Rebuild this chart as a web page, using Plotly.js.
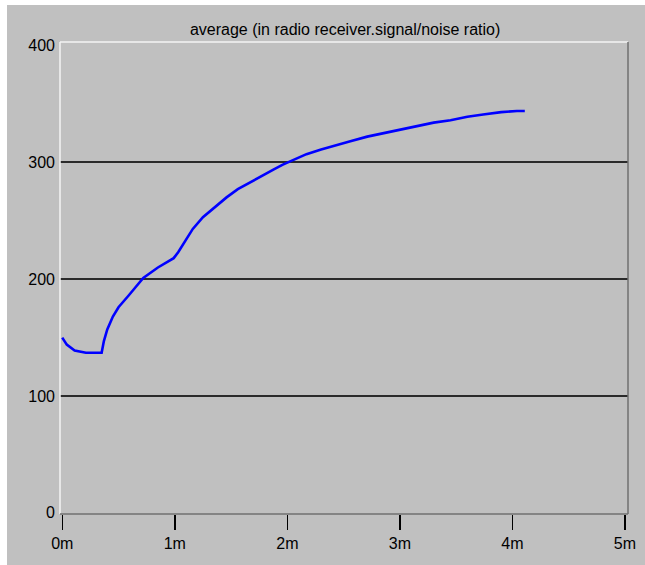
<!DOCTYPE html>
<html>
<head>
<meta charset="utf-8">
<script src="https://cdn.plot.ly/plotly-3.0.1.min.js"></script>
<style>
  html, body { margin: 0; padding: 0; background: #ffffff; }
  #chart { position: absolute; left: 7px; top: 5px; width: 638px; height: 560px; }
</style>
</head>
<body>
<div id="chart"></div>
<script>
// Elapsed time (minutes) and running average of the receiver's signal/noise ratio
const minutes = [0, 0.04, 0.11, 0.21, 0.28, 0.35, 0.37, 0.40, 0.45, 0.50, 0.59, 0.72, 0.85,
                 0.99, 1.03, 1.09, 1.16, 1.25, 1.37, 1.46, 1.56, 1.67, 1.76, 1.88, 1.96,
                 2.05, 2.17, 2.30, 2.44, 2.56, 2.71, 2.85, 3.00, 3.15, 3.30, 3.45, 3.60,
                 3.74, 3.90, 4.04, 4.11];
const snrAverage = [150, 144, 139, 137, 137, 137, 147, 157, 168, 176, 186, 201, 210,
                    218, 223, 232, 243, 253, 263, 270, 277, 283, 288, 294, 298,
                    302, 307, 311, 315, 318, 322, 325, 328, 331, 334, 336, 339,
                    341, 343, 344, 344];

const xTickVals = [0, 1, 2, 3, 4, 5];
const xTickText = ['0m', '1m', '2m', '3m', '4m', '5m'];
const yTickVals = [0, 100, 200, 300, 400];
const gridVals = [100, 200, 300];
const chartTitle = 'average (in radio receiver.signal/noise ratio)';

const font = { family: 'Liberation Sans, Arial, sans-serif', size: 16, color: '#000000' };
const yRange = [-1, 403];

const trace = {
  x: minutes,
  y: snrAverage,
  type: 'scatter',
  mode: 'lines',
  line: { color: '#0000ff', width: 2.6 },
  hoverinfo: 'skip'
};

// Invisible trace bound to the overlay axis that carries the horizontal rules
const gridHolder = {
  x: [0], y: [0], yaxis: 'y2', type: 'scatter', mode: 'markers',
  marker: { opacity: 0 }, hoverinfo: 'skip', showlegend: false
};

const layout = {
  paper_bgcolor: '#c0c0c0',
  plot_bgcolor: '#c0c0c0',
  font: font,
  showlegend: false,
  margin: { l: 53, r: 17, t: 37, b: 51 },
  title: { text: chartTitle, font: font, x: 0.53, xanchor: 'center', y: 0.957, yanchor: 'middle' },
  xaxis: {
    range: [-0.02, 5.027],
    tickvals: xTickVals,
    ticktext: xTickText,
    ticks: 'outside',
    ticklen: 15,
    tickwidth: 1.5,
    tickcolor: '#000000',
    showgrid: false,
    zeroline: false,
    showline: false,
    fixedrange: true
  },
  yaxis: {
    range: yRange,
    tickvals: yTickVals,
    ticks: '',
    showgrid: false,
    zeroline: false,
    showline: false,
    ticklabelstandoff: 4,
    fixedrange: true
  },
  yaxis2: {
    range: yRange,
    overlaying: 'y',
    tickvals: gridVals,
    showticklabels: false,
    showgrid: true,
    gridcolor: '#2a2a2a',
    gridwidth: 2,
    zeroline: false,
    fixedrange: true
  },
  shapes: [
    // bevelled frame of the plotting area
    { type: 'line', xref: 'paper', yref: 'paper', x0: 0, x1: 1, y0: 1, y1: 1, line: { color: '#f4f4f4', width: 1.5 } },
    { type: 'line', xref: 'paper', yref: 'paper', x0: 0, x1: 0, y0: 0, y1: 1, line: { color: '#f4f4f4', width: 1.5 } },
    { type: 'line', xref: 'paper', yref: 'paper', x0: 1, x1: 1, y0: 0, y1: 1, line: { color: '#707070', width: 1.5 } },
    { type: 'line', xref: 'paper', yref: 'paper', x0: 0, x1: 1, y0: 0, y1: 0, line: { color: '#707070', width: 1.5 } }
  ]
};

Plotly.newPlot('chart', [gridHolder, trace], layout, { displayModeBar: false, staticPlot: true });
</script>
</body>
</html>
